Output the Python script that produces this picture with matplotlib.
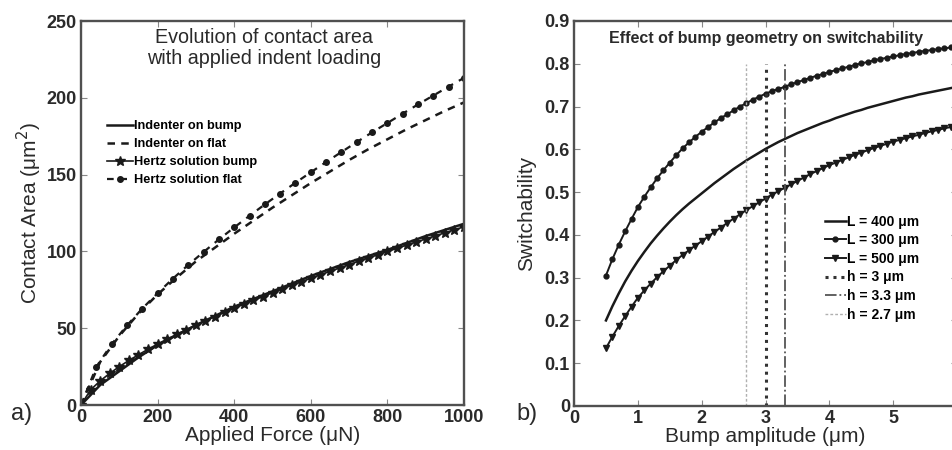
import numpy as np
import matplotlib
matplotlib.use('Agg')
import matplotlib.pyplot as plt

plt.rcParams['font.family'] = ['Liberation Sans', 'DejaVu Sans']

# ---- panel a) contact area vs applied force ----
force = [0, 50, 100, 150, 200, 250, 300, 350, 400, 450, 500,
         550, 600, 650, 700, 750, 800, 850, 900, 950, 1000]
area_bump = [0, 13, 22, 31, 39, 45.5, 52, 58, 64, 69, 74,
             79, 84, 88.5, 93, 97, 101, 105.5, 110, 114, 118]
area_flat = [0, 28, 45, 59.5, 72, 83, 93.5, 102.5, 111.5, 120, 128.5,
             136.5, 144.5, 152, 159.5, 166.5, 173, 179.5, 185.5, 191.5, 197]

force_hb = list(range(0, 1001, 25))
hertz_bump = [0, 9.9, 15.7, 20.6, 25.0, 29.0, 32.7, 36.3, 39.7, 42.9, 46.0,
              49.1, 52.0, 54.8, 57.6, 60.3, 63.0, 65.6, 68.1, 70.6, 73.1,
              75.5, 77.9, 80.2, 82.5, 84.8, 87.0, 89.2, 91.4, 93.6, 95.7,
              97.8, 100.0, 102.0, 104.1, 106.1, 108.1, 110.1, 112.1, 114.1, 116.0]

force_hf = list(range(0, 1001, 40))
hertz_flat = [0, 24.9, 39.6, 51.8, 62.8, 72.8, 82.3, 91.2, 99.6, 107.8, 115.6,
              123.2, 130.6, 137.7, 144.7, 151.5, 158.2, 164.7, 171.2, 177.5,
              183.6, 189.7, 195.7, 201.5, 207.3, 213.0]

# ---- panel b) switchability vs bump amplitude ----
amp = [round(0.5 + 0.1 * i, 1) for i in range(56)]
sw_400 = [0.200, 0.233, 0.263, 0.291, 0.316, 0.339, 0.360, 0.380, 0.398, 0.415,
          0.431, 0.446, 0.460, 0.473, 0.485, 0.497, 0.509, 0.521, 0.532, 0.543,
          0.554, 0.564, 0.574, 0.583, 0.592, 0.601, 0.609, 0.617, 0.624, 0.631,
          0.638, 0.644, 0.650, 0.656, 0.662, 0.667, 0.673, 0.678, 0.683, 0.688,
          0.692, 0.697, 0.701, 0.705, 0.709, 0.713, 0.717, 0.721, 0.724, 0.728,
          0.731, 0.734, 0.737, 0.740, 0.743, 0.746]
sw_300 = [0.305, 0.343, 0.377, 0.408, 0.437, 0.465, 0.489, 0.511, 0.532, 0.551,
          0.569, 0.586, 0.602, 0.616, 0.629, 0.641, 0.652, 0.663, 0.673, 0.682,
          0.691, 0.700, 0.708, 0.716, 0.723, 0.730, 0.736, 0.741, 0.746, 0.752,
          0.757, 0.762, 0.767, 0.772, 0.776, 0.781, 0.785, 0.789, 0.793, 0.797,
          0.801, 0.804, 0.808, 0.811, 0.814, 0.817, 0.820, 0.823, 0.825, 0.828,
          0.830, 0.832, 0.834, 0.836, 0.838, 0.840]
sw_500 = [0.135, 0.162, 0.187, 0.210, 0.232, 0.253, 0.270, 0.286, 0.301, 0.315,
          0.328, 0.341, 0.353, 0.364, 0.375, 0.385, 0.396, 0.407, 0.417, 0.428,
          0.438, 0.448, 0.458, 0.467, 0.476, 0.485, 0.494, 0.502, 0.510, 0.518,
          0.526, 0.534, 0.542, 0.549, 0.556, 0.563, 0.569, 0.575, 0.581, 0.587,
          0.592, 0.598, 0.603, 0.608, 0.613, 0.618, 0.622, 0.626, 0.630, 0.634,
          0.638, 0.642, 0.645, 0.649, 0.652, 0.656]
h_values = [3, 3.3, 2.7]
h_top = 0.8

ink = '#1a1a1a'
spine_c = '#505050'


def style_axes(ax):
    for s in ax.spines.values():
        s.set_color(spine_c)
        s.set_linewidth(1.7)
    ax.tick_params(direction='in', top=True, right=True, length=4,
                   width=0.8, color='#888888', labelsize=13,
                   labelcolor='#2a2a2a', pad=3)
    for lab in ax.get_xticklabels() + ax.get_yticklabels():
        lab.set_fontweight('bold')


fig = plt.figure(figsize=(9.52, 4.5), dpi=100)

# panel a
ax1 = fig.add_axes([0.0851, 0.100, 0.4023, 0.8533])
ax1.plot(force, area_bump, '-', color=ink, lw=1.8, label='Indenter on bump')
ax1.plot(force, area_flat, '--', color=ink, lw=1.8, dashes=(3, 2.5),
         label='Indenter on flat')
ax1.plot(force_hb, hertz_bump, '-', color=ink, lw=1.2, marker='*',
         markersize=7, label='Hertz solution bump')
ax1.plot(force_hf, hertz_flat, '--', color=ink, lw=1.6, dashes=(3, 3),
         marker='o', markersize=4, label='Hertz solution flat')
ax1.set_xlim(0, 1000)
ax1.set_ylim(0, 250)
ax1.set_xticks([0, 200, 400, 600, 800, 1000])
ax1.set_yticks([0, 50, 100, 150, 200, 250])
style_axes(ax1)
ax1.set_xlabel('Applied Force (μN)', fontsize=15, color='#2a2a2a', labelpad=0)
ax1.set_ylabel('Contact Area (μm$^2$)', fontsize=15, color='#2a2a2a', labelpad=2)
ax1.text(0.478, 0.982, 'Evolution of contact area\nwith applied indent loading',
         transform=ax1.transAxes, ha='center', va='top', fontsize=14.2,
         color='#2a2a2a', linespacing=1.12)
ax1.legend(loc='upper left', bbox_to_anchor=(0.068, 0.742), frameon=False,
           handlelength=2.0, handletextpad=0.1,
           labelspacing=0.47, borderpad=0, borderaxespad=0,
           prop={'weight': 'bold', 'size': 9.2})
fig.text(0.012, 0.067, 'a)', fontsize=17, color='#2a2a2a')

# panel b
ax2 = fig.add_axes([0.603, 0.0978, 0.4023, 0.8556])
ax2.plot(amp, sw_400, '-', color=ink, lw=1.8, label='L = 400 μm')
ax2.plot(amp, sw_300, '-', color=ink, lw=1.4, marker='o', markersize=3.5,
         label='L = 300 μm')
ax2.plot(amp, sw_500, '-', color=ink, lw=1.4, marker='v', markersize=4,
         label='L = 500 μm')
ax2.plot([h_values[0]] * 2, [0, h_top], color='#333333', lw=2.2,
         dashes=(1.0, 1.6), label='h = 3 μm')
ax2.plot([h_values[1]] * 2, [0, h_top], color='#555555', lw=1.3,
         linestyle='-.', label='h = 3.3 μm')
ax2.plot([h_values[2]] * 2, [0, h_top], color='#b0b0b0', lw=1.0,
         dashes=(2, 1.5), label='h = 2.7 μm')
ax2.set_xlim(0, 6)
ax2.set_ylim(0, 0.9)
ax2.set_xticks([0, 1, 2, 3, 4, 5, 6])
ax2.set_yticks([0, 0.1, 0.2, 0.3, 0.4, 0.5, 0.6, 0.7, 0.8, 0.9])
ax2.set_yticklabels(['0', '0.1', '0.2', '0.3', '0.4', '0.5', '0.6', '0.7',
                     '0.8', '0.9'])
style_axes(ax2)
ax2.set_xlabel('Bump amplitude (μm)', fontsize=15, color='#2a2a2a', labelpad=0)
ax2.set_ylabel('Switchability', fontsize=15, color='#2a2a2a', labelpad=6)
ax2.text(0.5, 0.975, 'Effect of bump geometry on switchability',
         transform=ax2.transAxes, ha='center', va='top', fontsize=11.5,
         color='#2a2a2a', fontweight='bold')
ax2.legend(loc='upper left', bbox_to_anchor=(0.655, 0.497), frameon=False,
           handlelength=1.5, handletextpad=0.1, labelspacing=0.33,
           borderpad=0, borderaxespad=0,
           prop={'weight': 'bold', 'size': 10})
fig.text(0.542, 0.067, 'b)', fontsize=17, color='#2a2a2a')

fig.savefig('out.png', dpi=100)
